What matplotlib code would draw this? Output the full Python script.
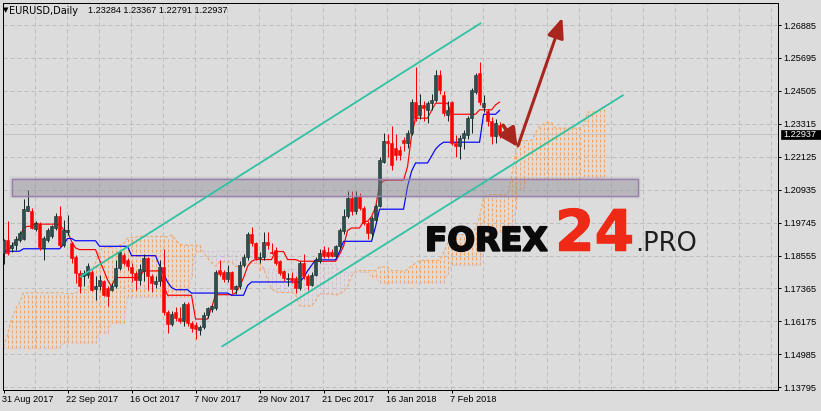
import numpy as np
import matplotlib
matplotlib.use("Agg")
import matplotlib.pyplot as plt
import matplotlib.transforms as mtransforms
from matplotlib.patches import Rectangle, FancyArrowPatch
from matplotlib import patheffects

plt.rcParams['font.family'] = ['Liberation Sans', 'DejaVu Sans']
plt.rcParams['lines.scale_dashes'] = False

# ---------------- data ----------------
symbol = "EURUSD,Daily"
header_ohlc = "1.23284 1.23367 1.22791 1.22937"
bid = 1.22937

date_labels = ["31 Aug 2017", "22 Sep 2017", "16 Oct 2017", "7 Nov 2017",
               "29 Nov 2017", "21 Dec 2017", "16 Jan 2018", "7 Feb 2018"]
date_bars = [0, 16, 32, 48, 64, 80, 96, 112]

price_ticks = [1.26885, 1.25695, 1.24505, 1.23315, 1.22125, 1.20935,
               1.19745, 1.18555, 1.17365, 1.16175, 1.14985, 1.13795]

opens = [1.1865, 1.1913, 1.1883, 1.1895, 1.1913, 1.1915, 1.2018, 1.2018, 1.1951, 1.1970,
         1.1883, 1.1913, 1.1925, 1.1955, 1.1997, 1.1895, 1.1940, 1.1901, 1.1852, 1.1792,
         1.1780, 1.1786, 1.1795, 1.1735, 1.1744, 1.1762, 1.1738, 1.1732, 1.1744, 1.1810,
         1.1858, 1.1840, 1.1815, 1.1792, 1.1768, 1.1800, 1.1845, 1.1780, 1.1752, 1.1765,
         1.1815, 1.1650, 1.1608, 1.1650, 1.1630, 1.1620, 1.1680, 1.1612, 1.1605, 1.1588,
         1.1598, 1.1640, 1.1662, 1.1665, 1.1805, 1.1795, 1.1770, 1.1795, 1.1735, 1.1745,
         1.1822, 1.1850, 1.1935, 1.1900, 1.1845, 1.1850, 1.1905, 1.1868, 1.1877, 1.1835,
         1.1799, 1.1772, 1.1776, 1.1774, 1.1738, 1.1829, 1.1780, 1.1750, 1.1786, 1.1835,
         1.1877, 1.1870, 1.1870, 1.1853, 1.1889, 1.1943, 1.1997, 1.2063, 1.2015, 1.2069,
         1.2027, 1.1973, 1.1937, 1.1985, 1.2035, 1.2195, 1.2268, 1.2262, 1.2244, 1.2238,
         1.2274, 1.2262, 1.2298, 1.2412, 1.2365, 1.2400, 1.2382, 1.2406, 1.2418, 1.2508,
         1.2436, 1.2365, 1.2412, 1.2262, 1.2250, 1.2280, 1.2290, 1.2352, 1.2448, 1.2514,
         1.2392, 1.2376, 1.2340, 1.2286, 1.23284]
highs = [1.1916, 1.1979, 1.1906, 1.1925, 1.1943, 1.2060, 1.2093, 1.2027, 1.1979, 1.1975,
         1.1925, 1.1955, 1.1967, 1.2011, 1.2035, 1.1985, 1.2003, 1.1906, 1.1858, 1.1804,
         1.1804, 1.1828, 1.1804, 1.1780, 1.1786, 1.1768, 1.1744, 1.1756, 1.1840, 1.1877,
         1.1865, 1.1846, 1.1830, 1.1800, 1.1825, 1.1860, 1.1852, 1.1790, 1.1780, 1.1838,
         1.1880, 1.1660, 1.1655, 1.1668, 1.1670, 1.1688, 1.1688, 1.1620, 1.1615, 1.1605,
         1.1650, 1.1670, 1.1676, 1.1805, 1.1840, 1.1805, 1.1820, 1.1800, 1.1750, 1.1835,
         1.1860, 1.1940, 1.1960, 1.1905, 1.1870, 1.1940, 1.1940, 1.1900, 1.1885, 1.1840,
         1.1805, 1.1792, 1.1795, 1.1780, 1.1835, 1.1862, 1.1790, 1.1795, 1.1850, 1.1880,
         1.1890, 1.1885, 1.1880, 1.1895, 1.1955, 1.2025, 1.2087, 1.2087, 1.2089, 1.2081,
         1.2033, 1.1979, 1.2000, 1.2040, 1.2210, 1.2298, 1.2296, 1.2323, 1.2296, 1.2250,
         1.2285, 1.2310, 1.2420, 1.2538, 1.2440, 1.2415, 1.2415, 1.2440, 1.2526, 1.2526,
         1.2450, 1.2415, 1.2415, 1.2290, 1.2290, 1.2310, 1.2360, 1.2460, 1.2515, 1.2556,
         1.2435, 1.2385, 1.2355, 1.2350, 1.23367]
lows = [1.1826, 1.1858, 1.1868, 1.1875, 1.1906, 1.1913, 1.2015, 1.1951, 1.1943, 1.1877,
        1.1840, 1.1906, 1.1919, 1.1949, 1.1888, 1.1888, 1.1931, 1.1828, 1.1756, 1.1720,
        1.1744, 1.1774, 1.1726, 1.1696, 1.1732, 1.1708, 1.1672, 1.1726, 1.1738, 1.1804,
        1.1822, 1.1804, 1.1760, 1.1732, 1.1750, 1.1765, 1.1732, 1.1725, 1.1738, 1.1745,
        1.1640, 1.1574, 1.1600, 1.1620, 1.1610, 1.1600, 1.1600, 1.1580, 1.1554, 1.1570,
        1.1590, 1.1630, 1.1650, 1.1660, 1.1780, 1.1760, 1.1760, 1.1720, 1.1715, 1.1735,
        1.1815, 1.1840, 1.1890, 1.1840, 1.1830, 1.1840, 1.1880, 1.1860, 1.1820, 1.1785,
        1.1765, 1.1744, 1.1755, 1.1720, 1.1730, 1.1770, 1.1730, 1.1745, 1.1780, 1.1830,
        1.1845, 1.1845, 1.1850, 1.1850, 1.1880, 1.1935, 1.1991, 1.2003, 1.2005, 1.2020,
        1.1967, 1.1916, 1.1916, 1.1975, 1.2030, 1.2190, 1.2210, 1.2165, 1.2200, 1.2200,
        1.2235, 1.2245, 1.2290, 1.2340, 1.2350, 1.2340, 1.2335, 1.2380, 1.2410, 1.2440,
        1.2360, 1.2340, 1.2255, 1.2210, 1.2205, 1.2240, 1.2275, 1.2300, 1.2440, 1.2400,
        1.2375, 1.2325, 1.2260, 1.2262, 1.22791]
closes = [1.1913, 1.1865, 1.1895, 1.1915, 1.1937, 1.2023, 1.2035, 1.1955, 1.1973, 1.1888,
          1.1919, 1.1949, 1.1961, 1.1999, 1.1895, 1.1949, 1.1949, 1.1846, 1.1792, 1.1744,
          1.1792, 1.1816, 1.1732, 1.1746, 1.1768, 1.1714, 1.1708, 1.1746, 1.1810, 1.1867,
          1.1828, 1.1819, 1.1792, 1.1768, 1.1806, 1.1845, 1.1780, 1.1755, 1.1765, 1.1815,
          1.1650, 1.1608, 1.1645, 1.1630, 1.1620, 1.1680, 1.1610, 1.1595, 1.1590, 1.1598,
          1.1642, 1.1665, 1.1672, 1.1795, 1.1790, 1.1770, 1.1795, 1.1735, 1.1745, 1.1822,
          1.1850, 1.1935, 1.1900, 1.1845, 1.1850, 1.1905, 1.1895, 1.1865, 1.1829, 1.1792,
          1.1775, 1.1775, 1.1768, 1.1738, 1.1829, 1.1780, 1.1750, 1.1786, 1.1841, 1.1865,
          1.1853, 1.1853, 1.1855, 1.1889, 1.1949, 1.1997, 1.2063, 1.2015, 1.2069, 1.2027,
          1.1973, 1.1937, 1.1990, 1.2035, 1.2201, 1.2268, 1.2262, 1.2183, 1.2220, 1.2220,
          1.2262, 1.2298, 1.2412, 1.2352, 1.2400, 1.2388, 1.2406, 1.2418, 1.2508, 1.2454,
          1.2370, 1.2382, 1.2262, 1.2250, 1.2280, 1.2298, 1.2352, 1.2454, 1.2508, 1.2412,
          1.2406, 1.2340, 1.2286, 1.2334, 1.22937]

# Ichimoku lines, stored as (value, number of bars) runs
tenkan_runs = [(1.1871, 2), (1.1889, 1), (1.1907, 1), (1.1919, 1), (1.1955, 1), (1.1961, 2),
               (1.1973, 1), (1.1969, 6), (1.1949, 1), (1.1943, 1), (1.1907, 1), (1.1883, 1),
               (1.1877, 5), (1.1840, 1), (1.1804, 1), (1.1768, 1), (1.1744, 1), (1.1776, 7),
               (1.1800, 5), (1.1750, 1), (1.1712, 7), (1.1626, 4), (1.1666, 1), (1.1714, 5),
               (1.1720, 1), (1.1744, 1), (1.1775, 1), (1.1816, 1), (1.1835, 1), (1.1841, 5),
               (1.1870, 3), (1.1841, 3), (1.1835, 10), (1.1860, 1), (1.1889, 1), (1.1946, 1),
               (1.1955, 3), (1.1979, 2), (1.1997, 1), (1.2030, 1), (1.2110, 1), (1.2125, 1),
               (1.2128, 5), (1.2177, 1), (1.2290, 1), (1.2352, 4), (1.2380, 1), (1.2406, 4),
               (1.2366, 7), (1.2382, 4), (1.2400, 1), (1.2410, 1)]
kijun_runs = [(1.1871, 5), (1.1880, 10), (1.1895, 1), (1.1917, 2), (1.1909, 6), (1.1889, 8),
              (1.1855, 7), (1.1820, 1), (1.1790, 1), (1.1760, 1), (1.1740, 1), (1.1732, 4),
              (1.1720, 10), (1.1712, 4), (1.1747, 1), (1.1760, 13), (1.1775, 1), (1.1800, 1),
              (1.1820, 1), (1.1840, 6), (1.1870, 1), (1.1907, 8), (1.1960, 1), (1.2023, 7),
              (1.2105, 1), (1.2160, 1), (1.2190, 4), (1.2215, 1), (1.2240, 1), (1.2255, 1),
              (1.2265, 10), (1.2366, 4), (1.2380, 1)]
span_a_runs = [(1.1526, 1), (1.1569, 1), (1.1624, 1), (1.1660, 1), (1.1685, 1), (1.1721, 11),
               (1.1718, 3), (1.1732, 3), (1.1793, 1), (1.1829, 1), (1.1869, 1), (1.1887, 1),
               (1.1885, 2), (1.1888, 1), (1.1892, 1), (1.1898, 1), (1.1918, 1), (1.1921, 2),
               (1.1927, 1), (1.1925, 6), (1.1922, 1), (1.1930, 1), (1.1912, 1), (1.1896, 1),
               (1.1893, 5), (1.1865, 1), (1.1847, 1), (1.1829, 1), (1.1817, 1), (1.1833, 4),
               (1.1816, 3), (1.1828, 4), (1.1810, 1), (1.1770, 1), (1.1736, 1), (1.1726, 1),
               (1.1722, 4), (1.1716, 1), (1.1673, 4), (1.1693, 1), (1.1717, 4), (1.1713, 1),
               (1.1716, 1), (1.1728, 1), (1.1744, 1), (1.1782, 1), (1.1798, 1), (1.1801, 5),
               (1.1815, 3), (1.1801, 3), (1.1798, 1), (1.1805, 1), (1.1818, 1), (1.1828, 1),
               (1.1838, 6), (1.1865, 1), (1.1898, 1), (1.1927, 1), (1.1931, 3), (1.1943, 2),
               (1.1952, 1), (1.1995, 1), (1.2067, 1), (1.2074, 1), (1.2076, 5), (1.2141, 1),
               (1.2225, 1), (1.2271, 4), (1.2298, 1), (1.2323, 1), (1.2331, 1), (1.2336, 2),
               (1.2316, 7), (1.2324, 1), (1.2374, 3), (1.2383, 1), (1.2395, 1)]
span_b_runs = [(1.1520, 15), (1.1540, 9), (1.1576, 3), (1.1612, 4), (1.1705, 16), (1.1780, 1),
               (1.1870, 16), (1.1805, 14), (1.1824, 6), (1.1795, 8), (1.1779, 2), (1.1757, 17),
               (1.1790, 1), (1.1821, 8), (1.1882, 1), (1.1926, 2), (1.1939, 3), (1.1947, 1),
               (1.1957, 1), (1.2025, 1), (1.2094, 1), (1.2099, 1), (1.2127, 5), (1.2129, 9),
               (1.2138, 6)]

# drawn annotations: trend channel, support zone, forecast arrows (bar index, price)
channel_upper = [(19.1, 1.1778), (119.4, 1.2696)]
channel_lower = [(54.5, 1.1526), (155.0, 1.2436)]
zone_bars = (2.0, 158.6)
zone_prices = (1.2069, 1.2132)
arrow_short = [(124.9, 1.2326), (128.5, 1.2248)]
arrow_long = [(128.6, 1.2252), (139.7, 1.2715)]


def expand(runs):
    vals = [v for v, n in runs for _ in range(n)]
    return np.array(vals)


opens, highs, lows, closes = map(np.array, (opens, highs, lows, closes))
tenkan = expand(tenkan_runs)
kijun = expand(kijun_runs)
span_a = expand(span_a_runs)
span_b = expand(span_b_runs)

# ---------------- style ----------------
W, H = 821, 411
BG = '#DCDCDC'
GRID = '#BDBDBD'
BULL = '#2F4F4F'
BULL_EDGE = '#172A2A'
BEAR = '#FF0000'
SANDY = '#F4A460'
THISTLE = '#D8BFD8'
TEAL = '#2EC2A3'
ARROW = '#A8261E'
PX = 0.72  # one pixel in points

fig = plt.figure(figsize=(W / 100, H / 100), dpi=100, facecolor=BG)
ax = fig.add_axes([3 / W, (H - 390) / H, 775 / W, 387 / H])
ax.set_facecolor(BG)
ax.set_xlim(-0.125, 193.6)
ax.set_ylim(1.13697, 1.27680)

# grid
dash = (0, (4 * PX, 3 * PX))
for p in price_ticks:
    ax.axhline(p, color=GRID, lw=PX, ls=dash, zorder=0)
for k in range(1, 25):
    ax.axvline(8 * k - 0.125, color=GRID, lw=PX, ls=dash, zorder=0)

# ichimoku cloud
cx = np.arange(len(span_a))
dot = (0, (3 * PX, 2 * PX))
cloud_cols = np.where(span_a >= span_b, SANDY, THISTLE)
ax.vlines(cx, np.minimum(span_a, span_b), np.maximum(span_a, span_b),
          colors=cloud_cols, lw=PX, linestyles=[dot], zorder=1)
ax.plot(cx, span_a, color=SANDY, lw=PX, ls=dot, zorder=1.5)
ax.plot(cx, span_b, color=THISTLE, lw=PX, ls=dot, zorder=1.5)

# bid line
ax.axhline(bid, color='#C2C2C2', lw=PX, zorder=1.8)

# tenkan / kijun
x = np.arange(len(closes))
ax.plot(x, tenkan, color='#FF0000', lw=0.85, zorder=3)
ax.plot(x, kijun, color='#0000FF', lw=0.85, zorder=3)

# candles
up = closes >= opens
ax.vlines(x, lows, highs, colors=np.where(up, BULL_EDGE, BEAR), lw=PX, zorder=4)
body_lo = np.minimum(opens, closes)
body_h = np.maximum(np.abs(closes - opens), 0.00006)
ax.bar(x[up], body_h[up], bottom=body_lo[up], width=0.72, color=BULL,
       edgecolor=BULL_EDGE, lw=0.4, zorder=5)
ax.bar(x[~up], body_h[~up], bottom=body_lo[~up], width=0.72, color=BEAR,
       edgecolor=BEAR, lw=0.4, zorder=5)

# support zone with a soft shadow
zx0, zx1 = zone_bars
zy0, zy1 = zone_prices
for grow, a in [(3, 0.04), (2, 0.05), (1, 0.07)]:
    ax.add_patch(Rectangle((zx0 - grow * 0.25, zy0 - grow * 0.00036),
                           zx1 - zx0 + grow * 0.5, zy1 - zy0 + grow * 0.00072,
                           facecolor='#5A5A60', edgecolor='none', alpha=a, zorder=6))
ax.add_patch(Rectangle((zx0, zy0), zx1 - zx0, zy1 - zy0, facecolor='#9A9AA2',
                       alpha=0.3, edgecolor='none', zorder=6.1))
ax.add_patch(Rectangle((zx0, zy0), zx1 - zx0, zy1 - zy0, facecolor='none',
                       edgecolor='#9A7DB0', lw=1.0, zorder=6.2))

# channel lines
for (xa, ya), (xb, yb) in (channel_upper, channel_lower):
    ax.plot([xa, xb], [ya, yb], color=TEAL, lw=1.3, zorder=7, solid_capstyle='butt')

# forecast arrows
ax.add_patch(FancyArrowPatch(arrow_short[0], arrow_short[1],
                             arrowstyle='-|>,head_length=1.1,head_width=0.55',
                             mutation_scale=10, lw=2.6, color=ARROW,
                             shrinkA=0, shrinkB=0, zorder=8))
ax.add_patch(FancyArrowPatch(arrow_long[0], arrow_long[1],
                             arrowstyle='-|>,head_length=1.2,head_width=0.5',
                             mutation_scale=10, lw=2.2, color=ARROW,
                             shrinkA=0, shrinkB=0, zorder=8))

# axes frame and ticks
for s in ax.spines.values():
    s.set_color('black')
    s.set_linewidth(PX)
ax.yaxis.tick_right()
ax.set_yticks(price_ticks)
ax.set_yticklabels([f"{p:.5f}" for p in price_ticks])
ax.set_xticks(date_bars)
ax.set_xticklabels(date_labels)
ax.tick_params(axis='both', direction='out', length=3 * PX, width=PX, color='black',
               labelsize=6.6, labelcolor='black', pad=1.6)
shift = mtransforms.ScaledTranslation(-1.5 / 100, 0, fig.dpi_scale_trans)
for lbl in ax.get_xticklabels():
    lbl.set_horizontalalignment('left')
    lbl.set_transform(lbl.get_transform() + shift)

# current price box on the price scale
blend = mtransforms.blended_transform_factory(ax.transAxes, ax.transData)
box_h = 9.4 * 0.000361
ax.add_patch(Rectangle((778.5 / 775 - 3 / 775 + 2.5 / 775, bid - box_h / 2), 39.5 / 775, box_h,
                       transform=blend, facecolor='black', edgecolor='black', lw=0.5,
                       clip_on=False, zorder=9))
ax.text((783 - 3) / 775, bid, f"{bid:.5f}", transform=blend, color='white', fontsize=6.6,
        va='center', ha='left', zorder=10, clip_on=False)

# header
fig.text(2.5 / W, 1 - 10.5 / H, "\u25bc", fontsize=5, va='center', ha='left', color='black',
         family=['DejaVu Sans'])
fig.text(9 / W, 1 - 10.5 / H, symbol, fontsize=7.0, va='center', ha='left', color='black',
         family=['DejaVu Sans'])
fig.text(88 / W, 1 - 10.5 / H, header_ohlc, fontsize=6.6, va='center', ha='left', color='black')

# logo
base = 1 - 250.7 / H
fig.text(425 / W, base, "FOREX", fontsize=23.5, fontweight='bold', color='#0A0A0A',
         family=['DejaVu Sans'], va='baseline', ha='left',
         path_effects=[patheffects.withStroke(linewidth=1.4, foreground='#0A0A0A')])
fig.text(555 / W, base, "24", fontsize=41, fontweight='bold', color='#EE2A16',
         family=['DejaVu Sans'], va='baseline', ha='left',
         path_effects=[patheffects.withStroke(linewidth=0.8, foreground='#EE2A16')])
fig.text(635 / W, base, ".PRO", fontsize=18.5, color='#1E1E1E',
         family=['DejaVu Sans'], va='baseline', ha='left')

fig.savefig("out.png", dpi=100, facecolor=BG)
